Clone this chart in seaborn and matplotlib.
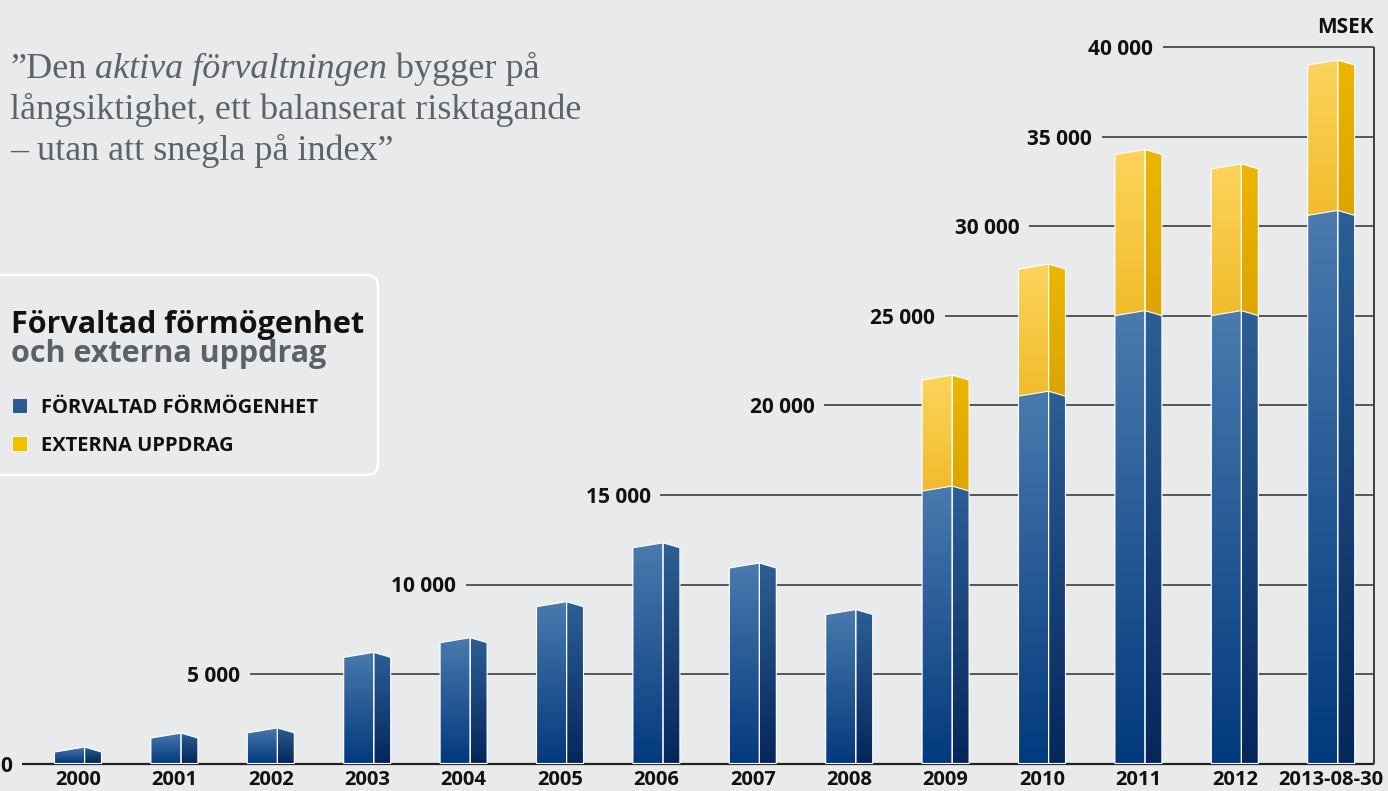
import numpy as np
import pandas as pd
import seaborn as sns
import matplotlib.pyplot as plt
from matplotlib import font_manager as fm
from matplotlib.colors import LinearSegmentedColormap
from matplotlib.patches import Polygon, Rectangle, FancyBboxPatch

# data (MSEK)
years = ["2000", "2001", "2002", "2003", "2004", "2005", "2006",
         "2007", "2008", "2009", "2010", "2011", "2012", "2013-08-30"]
forvaltad = [920, 1700, 1990, 6210, 7030, 9040, 12330,
             11200, 8600, 15500, 20800, 25300, 25300, 30900]
externa = [0, 0, 0, 0, 0, 0, 0, 0, 0, 6200, 7100, 9000, 8200, 8400]
y_ticks = [0, 5000, 10000, 15000, 20000, 25000, 30000, 35000, 40000]

# layout: where each stepped gridline starts (category units)
grid_start = [-0.58, 1.78, 4.02, 6.04, 7.74, 8.99, 9.87, 10.62, 11.25]
grid_end = 13.44

df = pd.DataFrame({"year": years, "forvaltad": forvaltad, "externa": externa})
df["total"] = df["forvaltad"] + df["externa"]

W, H = 1388, 791
BG = "#e9eaec"

sns.set_style("white")
avail = {f.name for f in fm.fontManager.ttflist}
sans = "Open Sans" if "Open Sans" in avail else "DejaVu Sans"
plt.rcParams["font.family"] = [sans, "DejaVu Sans"]


def fx(px):
    return px / W


def fy(py):
    return 1 - py / H


fig = plt.figure(figsize=(W / 100, H / 100), dpi=100, facecolor=BG)
ax = fig.add_axes([0, 0, 1, 1])
ax.set_facecolor(BG)

BAR_W = 0.4875
FRONT = 0.64
RIDGE = 280

sns.barplot(data=df, x="year", y="total", color="#f5c000", width=BAR_W,
            errorbar=None, ax=ax)
n_tot = len(ax.patches)
sns.barplot(data=df, x="year", y="forvaltad", color="#1f4f8c", width=BAR_W,
            errorbar=None, ax=ax)
bars = list(ax.patches)
yellow_bars, blue_bars = bars[:n_tot], bars[n_tot:]


def face(verts, lo, hi, c_lo, c_hi, z):
    poly = Polygon(verts, closed=True, fc="none", ec="white", lw=0.8, zorder=z + 0.5)
    ax.add_patch(poly)
    xs = [v[0] for v in verts]
    cmap = LinearSegmentedColormap.from_list("", [c_lo, c_hi])
    im = ax.imshow(np.linspace(0, 1, 100).reshape(-1, 1), cmap=cmap, origin="lower",
                   aspect="auto", extent=(min(xs), max(xs), lo, hi), zorder=z,
                   interpolation="bilinear")
    im.set_clip_path(poly)


def block(bar, lo, hi, front_cols, side_cols, z):
    x = bar.get_x()
    w = bar.get_width()
    xm = x + w * FRONT
    x1 = x + w
    face([(x, lo), (x, hi - RIDGE), (xm, hi), (xm, lo)], lo, hi, *front_cols, z)
    face([(xm, lo), (xm, hi), (x1, hi - RIDGE), (x1, lo)], lo, hi, *side_cols, z)


for i, bar in enumerate(yellow_bars):
    bar.set_visible(False)
    if df["externa"][i] > 0:
        block(bar, df["forvaltad"][i] - RIDGE, bar.get_height(),
              ("#f1bc2c", "#fcd45c"), ("#dca500", "#ecb600"), 2)

for bar in blue_bars:
    bar.set_visible(False)
    block(bar, 0, bar.get_height(),
          ("#033a7e", "#4a7aae"), ("#05275c", "#2c5f95"), 4)

# stepped gridlines + right frame
ax.hlines(y_ticks, grid_start, grid_end, color="#2e2e2e", lw=1.1, zorder=1)
ax.hlines(0, grid_start[0], grid_end, color="#222222", lw=1.6, zorder=1)
ax.vlines(grid_end, 0, y_ticks[-1], color="#3c3c3c", lw=1.4, zorder=1)

for v, s in zip(y_ticks, grid_start):
    ax.annotate(f"{v:,}".replace(",", " "), xy=(s, v), xytext=(-7, 0),
                textcoords="offset points", ha="right", va="center_baseline",
                fontsize=15, fontweight="bold", color="#111111")

for i, yr in enumerate(years):
    ax.annotate(yr, xy=(i, 0), xytext=(0, -18.8), textcoords="offset points",
                ha="center", va="bottom", fontsize=14.5, fontweight="bold",
                color="#111111", annotation_clip=False)

ax.set_xlim(-78 / 96.4, (W - 78) / 96.4)
ax.set_ylim(-(H - 763.5) / 17.9 * 1000, 763.5 / 17.9 * 1000)
ax.axis("off")

# unit
fig.text(fx(1374), fy(25), "MSEK", ha="right", va="center_baseline", fontsize=15,
         fontweight="bold", color="#111111")

# quote
serif = ["Liberation Serif", "DejaVu Serif"]
qcol = "#5d6369"
qs = 26
q1 = fig.text(fx(10), fy(78), "\u201dDen", fontsize=qs, family=serif, color=qcol,
              va="baseline")
q2 = ax.annotate(" aktiva förvaltningen", xy=(1, 0), xycoords=q1, va="bottom",
                 fontsize=qs, family=serif, style="italic", color=qcol)
ax.annotate(" bygger på", xy=(1, 0), xycoords=q2, va="bottom", fontsize=qs,
            family=serif, color=qcol)
fig.text(fx(10), fy(119), "långsiktighet, ett balanserat risktagande", fontsize=qs,
         family=serif, color=qcol, va="baseline")
fig.text(fx(10), fy(160), "\u2013 utan att snegla på index\u201d", fontsize=qs,
         family=serif, color=qcol, va="baseline")

# title / legend box
box = FancyBboxPatch((fx(-10), fy(475)), fx(388), 200 / H,
                     boxstyle=f"round,pad=0,rounding_size={12 / W}",
                     mutation_aspect=W / H, transform=fig.transFigure,
                     fc=BG, ec="white", lw=1.8, zorder=0)
fig.patches.append(box)
fig.text(fx(11), fy(333), "Förvaltad förmögenhet", fontsize=22, fontweight="bold",
         color="#111111", va="baseline")
fig.text(fx(11), fy(362), "och externa uppdrag", fontsize=22, fontweight="bold",
         color="#5b6167", va="baseline")

for py, col, label in [(398, "#2a5a96", "FÖRVALTAD FÖRMÖGENHET"),
                       (436, "#f5c000", "EXTERNA UPPDRAG")]:
    fig.patches.append(Rectangle((fx(12), fy(py + 15)), 15 / W, 15 / H,
                                 transform=fig.transFigure, fc=col, ec="white",
                                 lw=0.6))
    fig.text(fx(41), fy(py + 15), label, fontsize=14.5, fontweight="bold",
             color="#111111", va="baseline")

fig.savefig("out.png", dpi=100, facecolor=BG)
